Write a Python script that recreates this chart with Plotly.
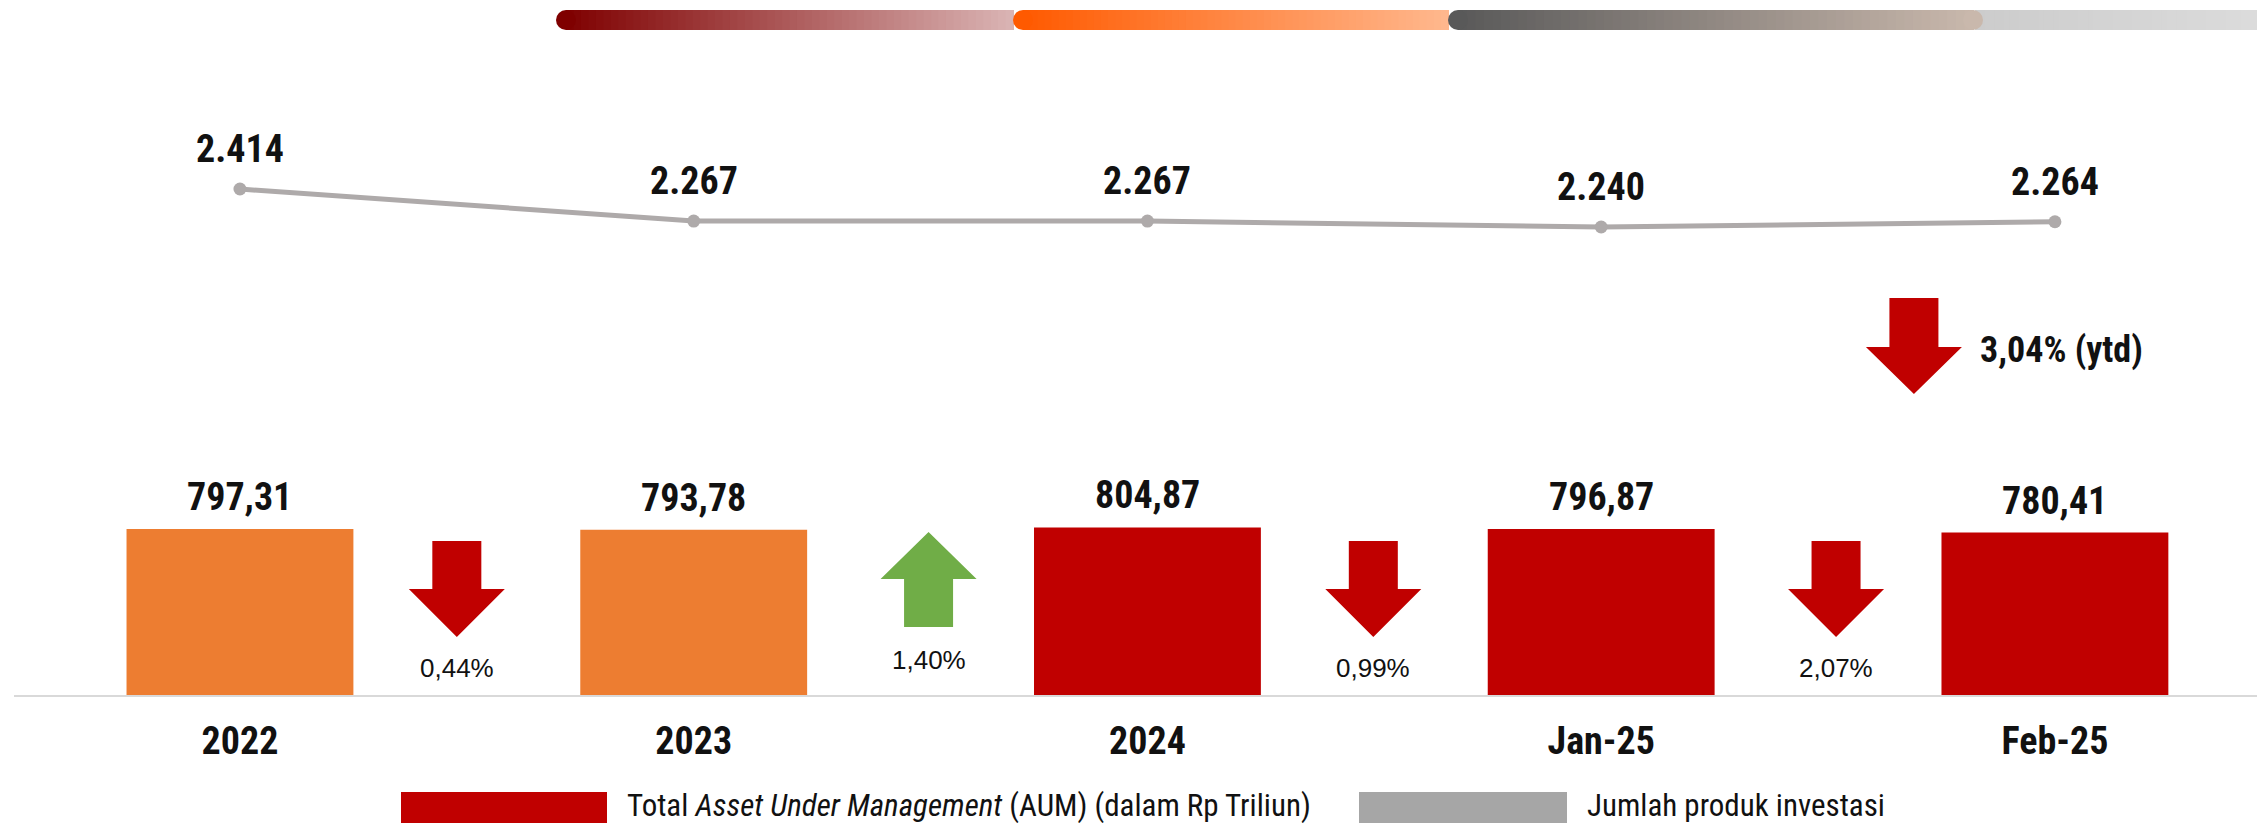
import plotly.graph_objects as go

# data
categories = ["2022", "2023", "2024", "Jan-25", "Feb-25"]
aum = [797.31, 793.78, 804.87, 796.87, 780.41]
produk = [2414, 2267, 2267, 2240, 2264]
perubahan = [-0.44, 1.40, -0.99, -2.07]
ytd = -3.04

legend_aum = "Total <i>Asset Under Management</i> (AUM) (dalam Rp Triliun)"
legend_produk = "Jumlah produk investasi"

# styling
bar_colors = ["#ED7D31", "#ED7D31", "#C00000", "#C00000", "#C00000"]
line_color = "#AEAAAA"
down_color = "#C00000"
up_color = "#70AD47"
narrow = "Liberation Sans Narrow, Arial Narrow, Roboto Condensed, DejaVu Sans Condensed, sans-serif"
plain = "Liberation Sans, Arial, sans-serif"

# the page body adds an 8px margin, so the figure is laid out 8px smaller
BODY = 8
W, H = 2265 - BODY, 823 - BODY
ML = 14 - BODY
BASE = 695                      # screen y of the bar baseline
PLOT_H = BASE - BODY
MB = H - PLOT_H
X_RANGE = [-0.498, 4.463]
arrow_nudge = [-10, 8, -1, 8]

# value ranges so that the marks land where they sit in the picture
Y_MAX = 797.31 * PLOT_H / (BASE - 529)
PX_PER_UNIT2 = (227 - 189) / (2414 - 2240)
Y2_RANGE = [2414 - (BASE - 189) / PX_PER_UNIT2, 2414 + (189 - BODY) / PX_PER_UNIT2]


def koma(v):
    return f"{abs(v):.2f}".replace(".", ",")


def ribuan(v):
    return f"{v:,}".replace(",", ".")


def rx(px):
    return px - BODY - ML


def ry(py):
    return BASE - py


fig = go.Figure()

fig.add_trace(go.Bar(
    x=list(range(len(categories))),
    y=aum,
    width=0.5,
    marker=dict(color=bar_colors, line=dict(width=0)),
    name="AUM",
    showlegend=False,
))

fig.add_trace(go.Scatter(
    x=list(range(len(categories))),
    y=produk,
    yaxis="y2",
    mode="lines+markers",
    line=dict(color=line_color, width=5),
    marker=dict(color=line_color, size=13),
    name="Produk",
    showlegend=False,
))

annotations = []
shapes = []

# labels above bars and line points
for i, v in enumerate(aum):
    annotations.append(dict(x=i, y=v, xref="x", yref="y", text=koma(v), showarrow=False,
                            yanchor="middle", yshift=32,
                            font=dict(family=narrow, size=38, color="#111111", weight="bold")))
for i, v in enumerate(produk):
    annotations.append(dict(x=i, y=v, xref="x", yref="y2", text=ribuan(v), showarrow=False,
                            yanchor="middle", yshift=40,
                            font=dict(family=narrow, size=38, color="#111111", weight="bold")))


def arrow_path(dx, top, neck, tip, shaft=24.5, head=48):
    return (f"M{dx - shaft},{top} L{dx + shaft},{top} L{dx + shaft},{neck} "
            f"L{dx + head},{neck} L{dx},{tip} L{dx - head},{neck} L{dx - shaft},{neck} Z")


# change arrows between bars
for i, ch in enumerate(perubahan):
    dx = arrow_nudge[i]
    if ch < 0:
        path = arrow_path(dx, ry(541), ry(589), ry(637))
        col = down_color
        lab_y = ry(668)
    else:
        path = arrow_path(dx, ry(627), ry(579), ry(532))
        col = up_color
        lab_y = ry(660)
    shapes.append(dict(type="path", path=path, xref="x", xsizemode="pixel", xanchor=i + 0.5,
                       yref="paper", ysizemode="pixel", yanchor=0,
                       fillcolor=col, line=dict(width=0)))
    annotations.append(dict(x=i + 0.5, y=0, xref="x", yref="paper", text=koma(ch) + "%",
                            showarrow=False, xshift=dx, yshift=lab_y, yanchor="middle",
                            font=dict(family=plain, size=26, color="#111111")))

# ytd arrow next to the last point
last = len(categories) - 1
shapes.append(dict(type="path", path=arrow_path(-141, ry(298), ry(347), ry(394)),
                   xref="x", xsizemode="pixel", xanchor=last,
                   yref="paper", ysizemode="pixel", yanchor=0,
                   fillcolor=down_color, line=dict(width=0)))
annotations.append(dict(x=last, y=0, xref="x", yref="paper", text=koma(ytd) + "% (ytd)",
                        showarrow=False, xshift=-77, yshift=ry(350), xanchor="left", yanchor="middle",
                        font=dict(family=narrow, size=36, color="#111111", weight="bold")))


# decorative gradient strip at the top
def hex2rgb(h):
    h = h.lstrip("#")
    return [int(h[k:k + 2], 16) for k in (0, 2, 4)]


def mix(c0, c1, t):
    a, b = hex2rgb(c0), hex2rgb(c1)
    return "rgb({},{},{})".format(*[round(a[k] + (b[k] - a[k]) * t) for k in range(3)])


R = 10
strip = [
    (1975, 2270, "#CCCCCC", "#DCDCDC", False, False),
    (556, 1013, "#7F0000", "#DAB5B5", True, False),
    (1013, 1448, "#FF5A00", "#FFB88E", True, False),
    (1448, 1983, "#595959", "#C9B8AC", True, True),
]
top_y, bot_y = ry(10), ry(30)
steps = 60
for x0, x1, c0, c1, cap_l, cap_r in strip:
    g0 = x0 + R if cap_l else x0
    g1 = x1 - R if cap_r else x1
    seg = (g1 - g0) / steps
    for k in range(steps):
        a = g0 + k * seg
        shapes.append(dict(type="rect", xref="paper", xsizemode="pixel", xanchor=0,
                           yref="paper", ysizemode="pixel", yanchor=0,
                           x0=rx(a), x1=rx(a + seg + 1), y0=bot_y, y1=top_y,
                           fillcolor=mix(c0, c1, (k + 0.5) / steps), line=dict(width=0)))
    if cap_l:
        shapes.append(dict(type="circle", xref="paper", xsizemode="pixel", xanchor=0,
                           yref="paper", ysizemode="pixel", yanchor=0,
                           x0=rx(x0), x1=rx(x0 + 2 * R), y0=bot_y, y1=top_y,
                           fillcolor=c0, line=dict(width=0)))
    if cap_r:
        shapes.append(dict(type="circle", xref="paper", xsizemode="pixel", xanchor=0,
                           yref="paper", ysizemode="pixel", yanchor=0,
                           x0=rx(x1 - 2 * R), x1=rx(x1), y0=bot_y, y1=top_y,
                           fillcolor=c1, line=dict(width=0)))

# legend drawn by hand
for (bx0, bx1, col), (tx, txt) in zip(
        [(401, 607, bar_colors[-1]), (1359, 1567, "#A6A6A6")],
        [(625, legend_aum), (1585, legend_produk)]):
    shapes.append(dict(type="rect", xref="paper", xsizemode="pixel", xanchor=0,
                       yref="paper", ysizemode="pixel", yanchor=0,
                       x0=rx(bx0), x1=rx(bx1), y0=ry(792), y1=ry(824),
                       fillcolor=col, line=dict(width=0)))
    annotations.append(dict(x=0, y=0, xref="paper", yref="paper", text=txt, showarrow=False,
                            xshift=rx(tx), yshift=ry(805), xanchor="left", yanchor="middle",
                            font=dict(family=narrow, size=31, color="#111111")))

fig.update_layout(
    width=W, height=H,
    margin=dict(l=ML, r=0, t=0, b=MB),
    paper_bgcolor="white",
    plot_bgcolor="white",
    showlegend=False,
    xaxis=dict(range=X_RANGE, tickmode="array", tickvals=list(range(len(categories))),
               ticktext=categories, ticks="", ticklabelstandoff=11,
               tickfont=dict(family=narrow, size=38, color="#111111", weight="bold"),
               showline=True, linecolor="#D9D9D9", linewidth=2, showgrid=False, zeroline=False),
    yaxis=dict(range=[0, Y_MAX], visible=False, showgrid=False, zeroline=False),
    yaxis2=dict(range=Y2_RANGE, overlaying="y", visible=False, showgrid=False, zeroline=False),
    annotations=annotations,
    shapes=shapes,
)

fig.write_html("out.html")
